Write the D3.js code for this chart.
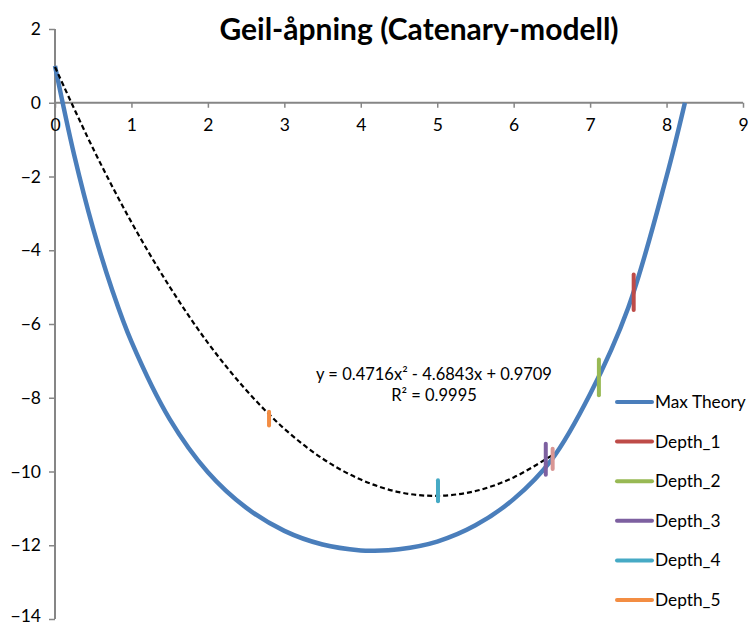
<!DOCTYPE html>
<html>
<head>
<meta charset="utf-8">
<script src="https://cdn.jsdelivr.net/npm/d3@7"></script>
<style>
  body { margin: 0; background: #fff; }
  text { font-family: Lato, "Open Sans", sans-serif; fill: #000; }
</style>
</head>
<body>
<div class="chart-container"></div>
<script>
// values
var title = "Geil-åpning (Catenary-modell)";
var xTicks = [0, 1, 2, 3, 4, 5, 6, 7, 8, 9];
var yTicks = [2, 0, -2, -4, -6, -8, -10, -12, -14];

var theoryX = [0, 0.25, 0.5, 0.75, 1, 1.5, 2, 2.5, 3, 3.5, 4, 4.18, 4.5, 5, 5.5, 6, 6.5, 7, 7.5, 8, 8.24];
var theoryY = [1.0, -1.41, -3.42, -5.09, -6.48, -8.58, -10.02, -10.98, -11.61, -11.98, -12.14, -12.15, -12.11, -11.9, -11.46, -10.75, -9.67, -7.9, -5.55, -2.0, 0];

var trendX = [0, 0.5, 1, 1.5, 2, 2.5, 3, 3.5, 4, 4.5, 5, 5.5, 6, 6.51];
var trendY = [0.97, -1.25, -3.24, -4.99, -6.51, -7.79, -8.84, -9.65, -10.22, -10.56, -10.66, -10.53, -10.16, -9.55];
var trendLabel = ["y = 0.4716x\u00B2 - 4.6843x + 0.9709", "R\u00B2 = 0.9995"];

var depthNames = ["Depth_1", "Depth_2", "Depth_3", "Depth_4", "Depth_5", "Depth_6"];
var depthX = [7.57, 7.115, 6.42, 5.01, 2.80, 6.51];
var depthTop = [-4.66, -6.96, -9.25, -10.24, -8.38, -9.38];
var depthBottom = [-5.62, -7.93, -10.09, -10.81, -8.75, -9.93];

var legendNames = ["Max Theory", "Depth_1", "Depth_2", "Depth_3", "Depth_4", "Depth_5"];

var colors = {
  "Max Theory": "#4A7EBB",
  "Depth_1": "#BE4B48",
  "Depth_2": "#98B954",
  "Depth_3": "#7D60A0",
  "Depth_4": "#46AAC5",
  "Depth_5": "#F38D43",
  "Depth_6": "#D99694"
};

var width = 749, height = 627;

var svg = d3.select(".chart-container").append("svg")
    .attr("width", width)
    .attr("height", height);

var x = d3.scaleLinear().domain([0, 9]).range([55, 743]);
var y = d3.scaleLinear().domain([-14, 2]).range([619, 29]);

// title
svg.append("text")
    .attr("x", 419)
    .attr("y", 40)
    .attr("text-anchor", "middle")
    .style("font-size", "30px")
    .style("font-weight", "bold")
    .text(title);

// axes
var yAxis = svg.append("g")
    .attr("transform", "translate(" + x(0) + ",0)")
    .call(d3.axisLeft(y).tickValues(yTicks).tickSize(6).tickSizeOuter(0).tickPadding(8));

var xAxis = svg.append("g")
    .attr("transform", "translate(0," + y(0) + ")")
    .call(d3.axisBottom(x).tickValues(xTicks).tickSize(5).tickSizeOuter(0).tickPadding(8));

[xAxis, yAxis].forEach(function (g) {
  g.select(".domain").attr("stroke", "#868686").attr("stroke-width", 2);
  g.selectAll(".tick line").attr("stroke", "#868686").attr("stroke-width", 1.5);
  g.selectAll(".tick text").style("font-size", "17.5px").style("font-family", "Lato, sans-serif").attr("fill", "#000");
});
xAxis.select(".domain").attr("d", "M" + x(0) + ",0H" + x(9));
yAxis.select(".domain").attr("d", "M0," + y(2) + "V" + y(-14));
xAxis.selectAll(".tick text").attr("dy", "0.85em");
// keep the bottom label inside the frame
yAxis.selectAll(".tick text").filter(function (d) { return d === -14; }).attr("dy", "0.15em");

// max theory curve
var theory = theoryX.map(function (d, i) { return {x: d, y: theoryY[i]}; });
var line = d3.line()
    .x(function (d) { return x(d.x); })
    .y(function (d) { return y(d.y); })
    .curve(d3.curveCatmullRom.alpha(0.5));

svg.append("path")
    .datum(theory)
    .attr("d", line)
    .attr("fill", "none")
    .attr("stroke", colors["Max Theory"])
    .attr("stroke-width", 4.5);

// trendline (dashed)
var trend = trendX.map(function (d, i) { return {x: d, y: trendY[i]}; });
svg.append("path")
    .datum(trend)
    .attr("d", line)
    .attr("fill", "none")
    .attr("stroke", "#000")
    .attr("stroke-width", 2.2)
    .attr("stroke-dasharray", "5,3");

// depth markers
var depths = depthNames.map(function (n, i) {
  return {name: n, x: depthX[i], y0: depthTop[i], y1: depthBottom[i]};
});
svg.selectAll("line.depth")
    .data(depths)
    .enter().append("line")
    .attr("class", "depth")
    .attr("x1", function (d) { return x(d.x); })
    .attr("x2", function (d) { return x(d.x); })
    .attr("y1", function (d) { return y(d.y0); })
    .attr("y2", function (d) { return y(d.y1); })
    .attr("stroke", function (d) { return colors[d.name]; })
    .attr("stroke-width", 4)
    .attr("stroke-linecap", "round");

// trendline label
svg.selectAll("text.eq")
    .data(trendLabel)
    .enter().append("text")
    .attr("class", "eq")
    .attr("x", 434)
    .attr("y", function (d, i) { return 380 + i * 21; })
    .attr("text-anchor", "middle")
    .style("font-size", "16.5px")
    .text(function (d) { return d; });

// legend
var legend = svg.selectAll("g.legend")
    .data(legendNames)
    .enter().append("g")
    .attr("class", "legend")
    .attr("transform", function (d, i) { return "translate(617," + (402 + i * 39.6) + ")"; });

legend.append("line")
    .attr("x1", 0).attr("x2", 35)
    .attr("stroke", function (d) { return colors[d]; })
    .attr("stroke-width", 4)
    .attr("stroke-linecap", "round");

legend.append("text")
    .attr("x", 38)
    .attr("dy", "0.35em")
    .style("font-size", "17.3px")
    .text(function (d) { return d; });
</script>
</body>
</html>
